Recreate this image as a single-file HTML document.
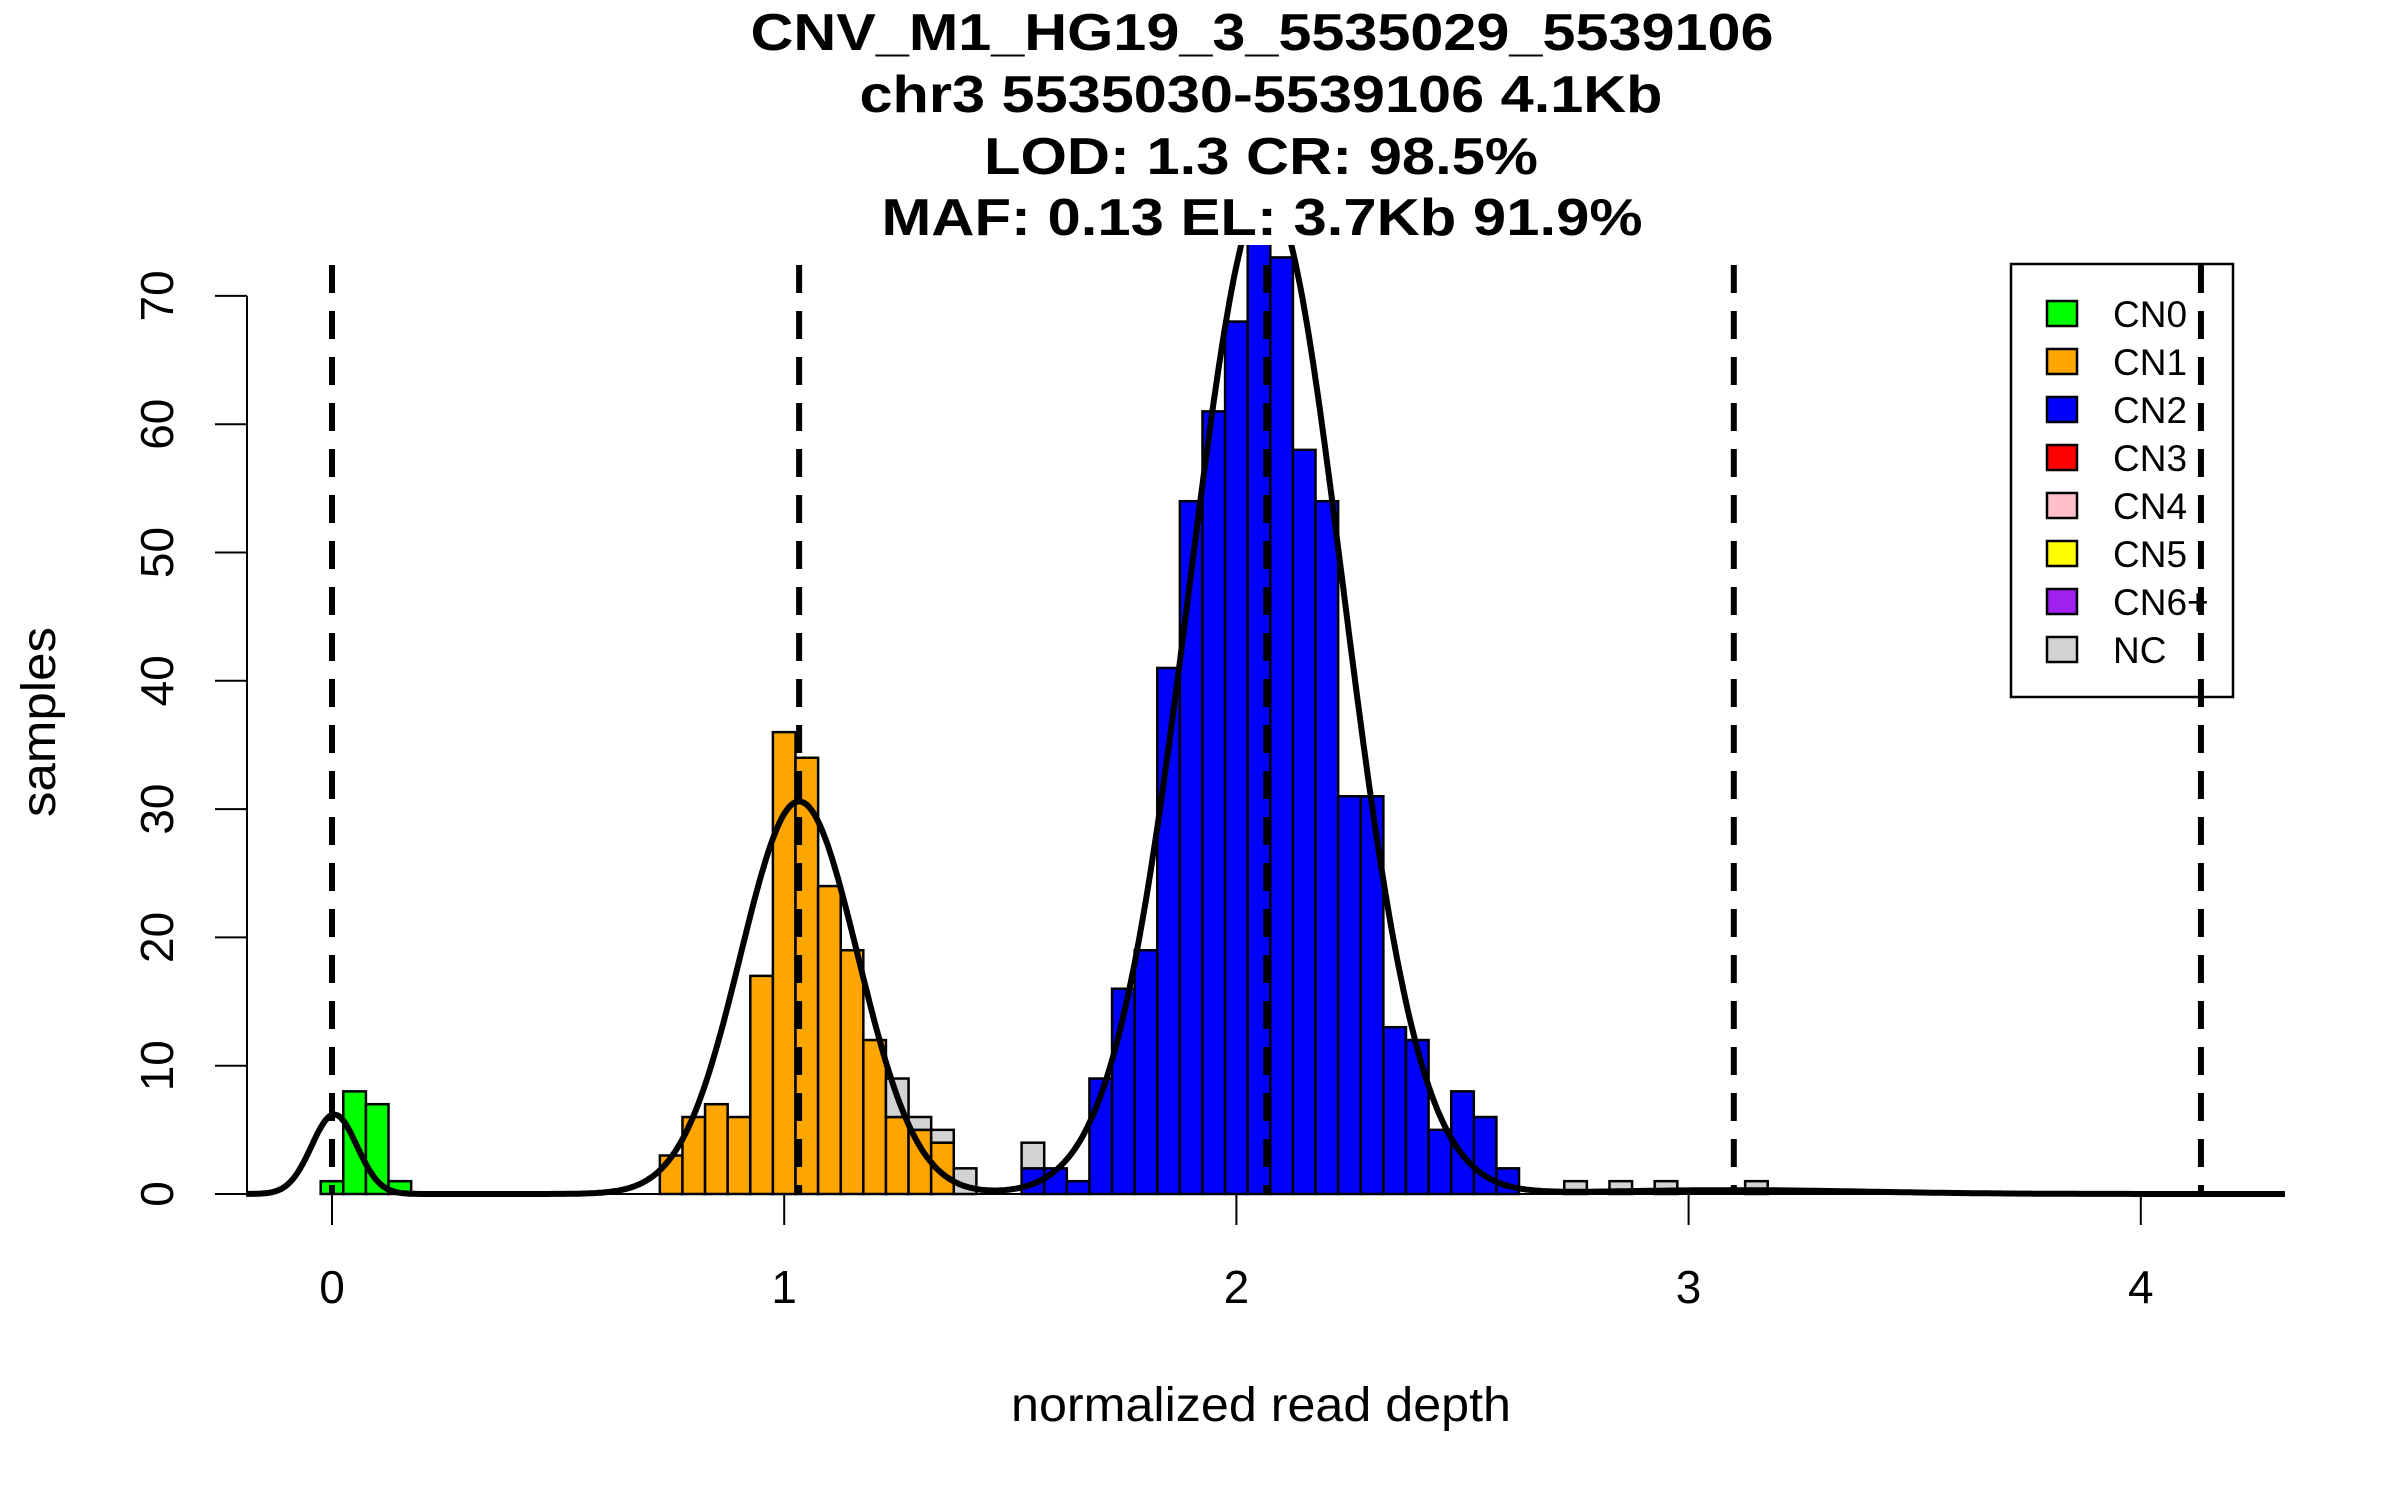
<!DOCTYPE html>
<html><head><meta charset="utf-8"><style>
html,body{margin:0;padding:0;background:#fff}
svg{display:block}
text{font-family:"Liberation Sans",sans-serif;fill:#000}
</style></head><body>
<svg id="chart" width="2400" height="1500" viewBox="0 0 2400 1500" xmlns="http://www.w3.org/2000/svg">
<g font-weight="bold" font-size="52" text-anchor="middle">
<text x="1262" y="50" textLength="1023" lengthAdjust="spacingAndGlyphs">CNV_M1_HG19_3_5535029_5539106</text>
<text x="1261" y="112" textLength="803" lengthAdjust="spacingAndGlyphs">chr3 5535030-5539106 4.1Kb</text>
<text x="1261" y="174" textLength="554" lengthAdjust="spacingAndGlyphs">LOD: 1.3 CR: 98.5%</text>
<text x="1262" y="235" textLength="761" lengthAdjust="spacingAndGlyphs">MAF: 0.13 EL: 3.7Kb 91.9%</text>
</g>
<defs><clipPath id="plotclip"><rect x="245" y="245" width="2040" height="960"/></clipPath></defs>
<g id="bars" clip-path="url(#plotclip)"></g>
<g id="curves" clip-path="url(#plotclip)"></g>
<g id="dashes"></g>
<g id="xaxis"></g>
<g id="yaxis"></g>
<text x="1261" y="1421" font-size="48" text-anchor="middle" textLength="500" lengthAdjust="spacingAndGlyphs">normalized read depth</text>
<text transform="translate(55,722) rotate(-90)" font-size="48" text-anchor="middle" textLength="190" lengthAdjust="spacingAndGlyphs">samples</text>
<g id="legend"></g>
</svg>
<script>
// ---- data ----
const binCenters = [0.00,0.05,0.10,0.15,0.75,0.80,0.85,0.90,0.95,1.00,1.05,1.10,1.15,1.20,1.25,1.30,1.35,1.40,1.55,1.60,1.65,1.70,1.75,1.80,1.85,1.90,1.95,2.00,2.05,2.10,2.15,2.20,2.25,2.30,2.35,2.40,2.45,2.50,2.55,2.60,2.75,2.85,2.95,3.15];
const cn0Counts  = [1,8,7,1, 0,0,0,0,0,0,0,0,0,0,0,0,0,0, 0,0,0,0,0,0,0,0,0,0,0,0,0,0,0,0,0,0,0,0,0,0, 0,0,0,0];
const cn1Counts  = [0,0,0,0, 3,6,7,6,17,36,34,24,19,12,6,5,4,0, 0,0,0,0,0,0,0,0,0,0,0,0,0,0,0,0,0,0,0,0,0,0, 0,0,0,0];
const cn2Counts  = [0,0,0,0, 0,0,0,0,0,0,0,0,0,0,0,0,0,0, 2,2,1,9,16,19,41,54,61,68,76,73,58,54,31,31,13,12,5,8,6,2, 0,0,0,0];
const ncCounts   = [0,0,0,0, 0,0,0,0,0,0,0,0,0,0,3,1,1,2, 2,0,0,0,0,0,0,0,0,0,0,0,0,0,0,0,0,0,0,0,0,0, 1,1,1,1];
const binWidth = 0.05;
const compMeans = [0.005, 1.033, 2.066, 3.1];
const compSds = [0.05, 0.13, 0.17, 0.3];
const compPeaks = [6.2, 30.6, 78, 0.3];
const cnMeanLines = [0.0, 1.033, 2.066, 3.1, 4.133];
const xTicks = [0,1,2,3,4];
const yTicks = [0,10,20,30,40,50,60,70];
const legendLabels = ["CN0","CN1","CN2","CN3","CN4","CN5","CN6+","NC"];
const legendColors = ["#00ff00","#ffa500","#0000ff","#ff0000","#ffc0cb","#ffff00","#a020f0","#d3d3d3"];

// ---- scales ----
const X0 = 332, XU = 452.2, Y0 = 1194, YU = 12.83;
const sx = v => X0 + v*XU;
const sy = v => Y0 - v*YU;
const NS = "http://www.w3.org/2000/svg";
function mk(tag, attrs, parent){const e=document.createElementNS(NS,tag);for(const k in attrs)e.setAttribute(k,attrs[k]);parent.appendChild(e);return e;}

// bars (stacked)
const bars = document.getElementById('bars');
const series = [[cn0Counts,"#00ff00","cn0"],[cn1Counts,"#ffa500","cn1"],[cn2Counts,"#0000ff","cn2"],[ncCounts,"#d3d3d3","nc"]];
binCenters.forEach((c,i)=>{
  let base=0;
  series.forEach(([arr,col,nm])=>{
    const v=arr[i]; if(!v) return;
    const r=mk('rect',{x:sx(c-binWidth/2),y:sy(base+v),width:binWidth*XU,height:v*YU,fill:col,stroke:"#000","stroke-width":2.5},bars);
    
    
    base+=v;
  });
});

// density curve
const curves = document.getElementById('curves');
let d="";
for(let x=-0.19;x<=4.32;x+=0.005){
  let y=0;
  for(let k=0;k<compMeans.length;k++){const z=(x-compMeans[k])/compSds[k];y+=compPeaks[k]*Math.exp(-0.5*z*z);}
  d+=(d?"L":"M")+sx(x).toFixed(1)+","+sy(y).toFixed(1);
}
const cp=mk('path',{d:d,fill:"none",stroke:"#000","stroke-width":6,"stroke-linejoin":"round"},curves);



// dashed mean lines
const dashes=document.getElementById('dashes');
cnMeanLines.forEach((m,i)=>{
  const l=mk('line',{x1:sx(m),x2:sx(m),y1:265,y2:Y0,stroke:"#000","stroke-width":6,"stroke-dasharray":"28,18"},dashes);
  
  
});

// x axis
const xa=document.getElementById('xaxis');
mk('line',{x1:sx(0),x2:sx(4),y1:Y0,y2:Y0,stroke:"#000","stroke-width":2},xa);
xTicks.forEach(t=>{
  const tk=mk('line',{x1:sx(t),x2:sx(t),y1:Y0,y2:1225,stroke:"#000","stroke-width":2},xa);
  
  
  const tx=mk('text',{x:sx(t),y:1303,"font-size":46,"text-anchor":"middle"},xa);
  tx.textContent=t;
  
  
});

// y axis
const ya=document.getElementById('yaxis');
mk('line',{x1:247,x2:247,y1:sy(0),y2:sy(70),stroke:"#000","stroke-width":2},ya);
yTicks.forEach(t=>{
  const tk=mk('line',{x1:215,x2:247,y1:sy(t),y2:sy(t),stroke:"#000","stroke-width":2},ya);
  
  
  const tx=mk('text',{transform:"translate(173,"+sy(t)+") rotate(-90)","font-size":46,"text-anchor":"middle"},ya);
  tx.textContent=t;
  
  
});

// legend
const lg=document.getElementById('legend');
mk('rect',{x:2011,y:264,width:222,height:433,fill:"none",stroke:"#000","stroke-width":2.5},lg);
legendLabels.forEach((lab,i)=>{
  const cy=313+i*48;
  const sw=mk('rect',{x:2047,y:cy-12,width:30,height:25,fill:legendColors[i],stroke:"#000","stroke-width":2.5},lg);
  
  
  const tx=mk('text',{x:2113,y:cy+14,"font-size":37},lg);
  tx.textContent=lab;
  
  
});
</script>
</body></html>
